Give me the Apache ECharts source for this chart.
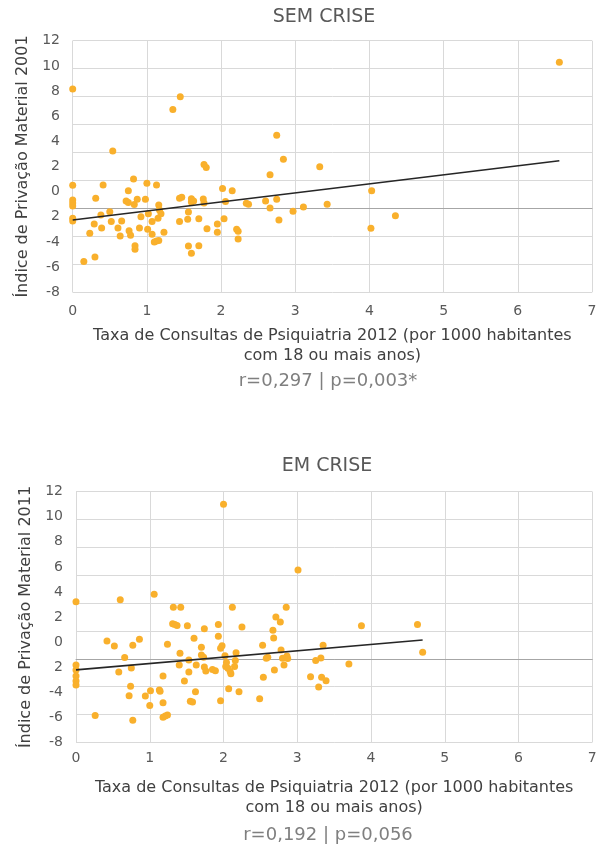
<!DOCTYPE html>
<html>
<head>
<meta charset="utf-8">
<script src="https://cdn.jsdelivr.net/npm/echarts@6/dist/echarts.min.js"></script>
<style>
html,body{margin:0;padding:0;background:#fff;}
#c{width:605px;height:849px;}
</style>
</head>
<body>
<div id="c"></div>
<script>
// ---- data ----
var titles = ['SEM CRISE', 'EM CRISE'];
var yNames = ['Índice de Privação Material 2001', 'Índice de Privação Material 2011'];
var xName = 'Taxa de Consultas de Psiquiatria 2012 (por 1000 habitantes\ncom 18 ou mais anos)';
var stats = ['r=0,297 | p=0,003*', 'r=0,192 | p=0,056'];
var xTicks = ['0', '1', '2', '3', '4', '5', '6', '7'];
// y tick labels as printed in the picture (value -> label)
var yTickValues = [-8, -6, -4, -2, 0, 2, 4, 6, 8, 10, 12];
var yTickLabels = ['-8', '-6', '-4', '2', '0', '2', '4', '6', '8', '10', '12'];

var semCrise = [
[0,8.16],[0,0.50],[0,-0.66],[0,-0.90],[0,-1.14],[0,-2.12],[0,-2.33],
[0.15,-5.56],[0.23,-3.31],[0.29,-2.57],[0.30,-5.19],[0.31,-0.53],[0.38,-1.85],[0.39,-2.89],[0.41,0.53],
[0.50,-1.59],[0.52,-2.38],[0.54,3.23],[0.61,-2.89],[0.64,-3.52],[0.66,-2.33],[0.72,-0.74],[0.75,0.08],
[0.75,-0.87],[0.76,-3.10],[0.78,-3.47],[0.82,1.01],[0.83,-1.03],[0.84,-4.29],[0.84,-4.58],[0.87,-0.61],
[0.90,-2.89],[0.92,-1.99],[0.98,-0.61],[1.00,0.66],[1.01,-2.99],[1.02,-1.75],[1.07,-3.39],[1.07,-2.38],
[1.10,-4.00],[1.13,0.53],[1.13,-3.92],[1.16,-3.89],[1.16,-1.06],[1.17,-1.46],[1.15,-2.12],[1.19,-1.75],
[1.23,-3.23],[1.35,6.54],[1.45,7.55],[1.44,-0.53],[1.47,-0.45],[1.44,-2.38],[1.55,-2.20],[1.56,-1.62],
[1.56,-4.32],[1.60,-4.90],[1.60,-0.56],[1.60,-0.82],[1.63,-0.74],[1.70,-2.15],[1.70,-4.29],[1.77,2.15],
[1.80,1.93],[1.76,-0.58],[1.77,-0.90],[1.81,-2.94],[1.95,-2.57],[1.95,-3.23],[2.02,0.26],[2.04,-2.15],
[2.06,-0.79],[2.15,0.08],[2.21,-2.99],[2.23,-3.15],[2.23,-3.76],[2.34,-0.93],[2.37,-1.01],[2.60,-0.74],
[2.66,1.35],[2.66,-1.30],[2.75,4.48],[2.75,-0.61],[2.78,-2.25],[2.84,2.57],[2.97,-1.56],
[3.11,-1.22],[3.33,1.99],[3.43,-1.01],[4.03,0.08],[4.02,-2.91],[4.35,-1.91],[6.56,10.28]
];
var emCrise = [
[0,3.22],[0,-1.83],[0,-2.23],[0,-2.71],[0,-3.11],[0,-3.43],
[0.26,-5.87],[0.42,0.08],[0.52,-0.31],[0.58,-2.39],[0.60,3.38],[0.66,-1.24],[0.75,-2.07],[0.74,-3.53],
[0.72,-4.28],[0.77,-6.24],[0.77,-0.26],[0.86,0.22],[0.94,-4.30],[1.00,-5.07],[1.01,-3.88],[1.06,3.81],
[1.13,-3.82],[1.14,-3.93],[1.18,-2.71],[1.18,-4.84],[1.18,-6.00],[1.21,-5.90],[1.24,-5.82],[1.24,-0.18],
[1.32,2.77],[1.31,1.47],[1.34,1.40],[1.37,1.32],[1.42,2.77],[1.41,-0.90],[1.40,-1.83],[1.47,-3.11],
[1.51,1.31],[1.53,-1.43],[1.53,-2.39],[1.55,-4.73],[1.58,-4.78],[1.60,0.30],[1.62,-3.96],[1.63,-1.83],
[1.70,-0.42],[1.70,-1.03],[1.73,-1.22],[1.74,1.07],[1.74,-1.99],[1.76,-2.31],[1.85,-2.18],[1.89,-2.28],
[1.93,1.41],[1.93,0.46],[1.96,-0.50],[1.98,-0.29],[1.96,-4.68],[2.00,10.99],[2.02,-1.09],[2.03,-1.96],
[2.04,-1.64],[2.06,-2.10],[2.07,-3.72],[2.09,-2.34],[2.10,-2.52],[2.12,2.77],[2.15,-1.96],[2.17,-0.85],
[2.16,-1.48],[2.21,-3.96],[2.25,1.20],[2.49,-4.52],[2.53,-0.26],[2.54,-2.81],[2.58,-1.30],[2.60,-1.22],
[2.67,0.94],[2.68,0.33],[2.69,-2.23],[2.71,2.00],[2.77,1.60],[2.78,-0.63],[2.82,-1.83],[2.80,-1.30],
[2.85,2.77],[2.86,-1.11],[2.87,-1.32],[3.01,5.75],
[3.18,-2.76],[3.25,-1.48],[3.29,-3.59],[3.32,-1.27],[3.33,-2.81],[3.35,-0.26],[3.39,-3.08],[3.70,-1.75],
[3.87,1.31],[4.63,1.41],[4.70,-0.82]
];
// linear trend line endpoints (as drawn)
var trendSem = [[0,-2.25],[6.56,2.46]];
var trendEm = [[0,-2.22],[4.70,0.16]];

// ---- chart ----
var FONT = 'DejaVu Sans';
var GRID_C = '#d9d9d9';
var DOT = '#F9B02C';

function yLabel(v){
  var i = yTickValues.indexOf(v);
  return i >= 0 ? yTickLabels[i] : '';
}

function xAxisMain(gi, margin, gap){
  return {
    type:'value', gridIndex:gi, min:0, max:7, interval:1,
    axisLine:{show:false}, axisTick:{show:false},
    splitLine:{show:true, lineStyle:{color:GRID_C, width:1}},
    axisLabel:{color:'#595959', fontSize:14, fontFamily:FONT, margin:margin,
      formatter:function(v){ return xTicks[v] !== undefined ? xTicks[v] : ''; }},
    name:xName, nameLocation:'middle', nameGap:gap,
    nameTextStyle:{color:'#404040', fontSize:16, fontFamily:FONT, lineHeight:20, verticalAlign:'top'}
  };
}
function xAxisZero(gi, yIdx){
  return {
    type:'value', gridIndex:gi, min:0, max:7, interval:1,
    axisLine:{show:true, onZero:true, onZeroAxisIndex:yIdx, lineStyle:{color:'#a6a6a6', width:1}},
    axisTick:{show:false}, axisLabel:{show:false}, splitLine:{show:false}
  };
}
function yAxisLabel(gi, name, gap, margin){
  return {
    type:'value', gridIndex:gi, min:-8, max:12, interval:2,
    axisLine:{show:false}, axisTick:{show:false}, splitLine:{show:false},
    axisLabel:{color:'#595959', fontSize:14, fontFamily:FONT, margin:margin, formatter:yLabel},
    name:name, nameLocation:'middle', nameRotate:90, nameGap:gap,
    nameTextStyle:{color:'#404040', fontSize:16, fontFamily:FONT}
  };
}
function yAxisGrid(gi){
  return {
    type:'value', gridIndex:gi, min:-6, max:12, interval:2,
    axisLine:{show:false}, axisTick:{show:false}, axisLabel:{show:false},
    splitLine:{show:true, lineStyle:{color:GRID_C, width:1}}
  };
}

var option = {
  animation:false,
  backgroundColor:'#ffffff',
  textStyle:{fontFamily:FONT},
  grid:[
    {left:72.7, top:40.7, width:519.3, height:251.6},
    {left:76, top:491.7, width:516.3, height:250.6}
  ],
  xAxis:[ xAxisMain(0, 12, 34), xAxisZero(0, 1), xAxisMain(1, 9, 36), xAxisZero(1, 3) ],
  yAxis:[ yAxisLabel(0, yNames[0], 40, 12.7), yAxisGrid(0), yAxisLabel(1, yNames[1], 41, 13), yAxisGrid(1) ],
  series:[
    {type:'scatter', xAxisIndex:0, yAxisIndex:0, data:semCrise, symbolSize:7,
      itemStyle:{color:DOT, opacity:1}, z:3},
    {type:'line', xAxisIndex:0, yAxisIndex:0, data:trendSem, symbol:'none',
      lineStyle:{color:'#262626', width:1.6}, z:4},
    {type:'scatter', xAxisIndex:2, yAxisIndex:2, data:emCrise, symbolSize:7,
      itemStyle:{color:DOT, opacity:1}, z:3},
    {type:'line', xAxisIndex:2, yAxisIndex:2, data:trendEm, symbol:'none',
      lineStyle:{color:'#262626', width:1.6}, z:4}
  ],
  graphic:[
    {type:'text', x:324, y:17, style:{text:titles[0], font:'19px "DejaVu Sans"', fill:'#595959', align:'center', verticalAlign:'middle', textAlign:'center', textVerticalAlign:'middle'}},
    {type:'text', x:327, y:466, style:{text:titles[1], font:'19px "DejaVu Sans"', fill:'#595959', align:'center', verticalAlign:'middle', textAlign:'center', textVerticalAlign:'middle'}},
    {type:'text', x:328, y:381, style:{text:stats[0], font:'18px "DejaVu Sans"', fill:'#7f7f7f', align:'center', verticalAlign:'middle', textAlign:'center', textVerticalAlign:'middle'}},
    {type:'text', x:328, y:835, style:{text:stats[1], font:'18px "DejaVu Sans"', fill:'#7f7f7f', align:'center', verticalAlign:'middle', textAlign:'center', textVerticalAlign:'middle'}}
  ]
};

var chart = echarts.init(document.getElementById('c'), null, {renderer:'canvas'});
chart.setOption(option);
</script>
</body>
</html>
